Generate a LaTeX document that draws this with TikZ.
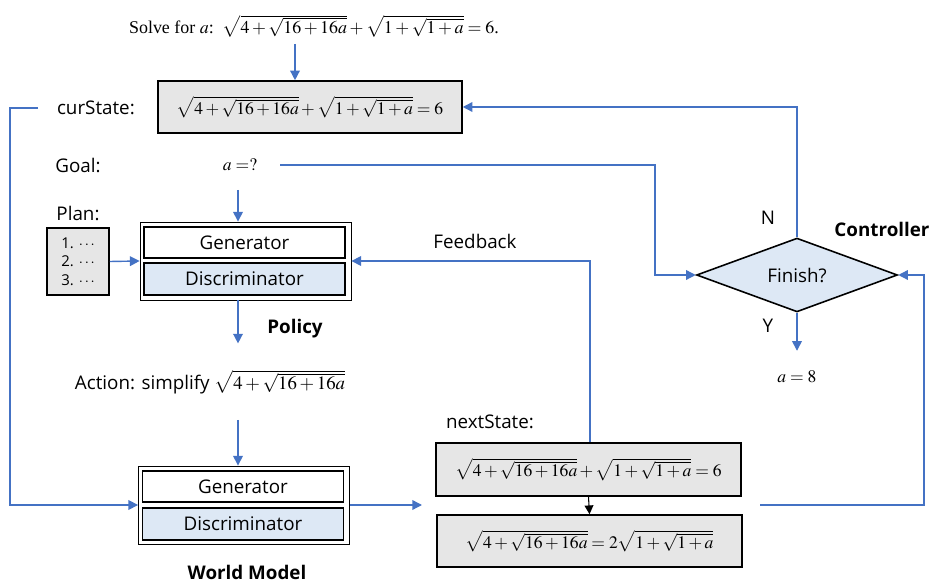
\documentclass[tikz,border=0pt]{standalone}
\usepackage{mathptmx}
\usepackage{fontspec}
\setmainfont{Liberation Serif}
\setsansfont{Open Sans}
\usepackage{xcolor}
\usetikzlibrary{arrows.meta,shapes.geometric}

\definecolor{flowblue}{HTML}{4472C4}
\definecolor{stategray}{HTML}{E6E6E6}
\definecolor{discblue}{HTML}{DDE8F5}

\tikzset{
    flow/.style={draw=flowblue,line width=0.8pt,-{Triangle[width=5.5pt,length=5.5pt]}},
    lbl/.style={font=\sffamily\fontsize{10.7}{13}\selectfont},
    boldlbl/.style={font=\sffamily\bfseries\fontsize{10.7}{13}\selectfont},
    eq/.style={font=\fontsize{10}{12}\selectfont},
    statebox/.style={draw,line width=0.9pt,fill=stategray,inner sep=0pt,eq},
    modelbox/.style={draw,line width=0.5pt,inner sep=0pt,minimum width=4.22cm,minimum height=1.56cm},
    genbox/.style={draw,line width=0.9pt,fill=white,inner sep=0pt,minimum width=4.02cm,minimum height=0.62cm,lbl},
    discbox/.style={genbox,fill=discblue,minimum height=0.64cm},
}

\begin{document}
\begin{tikzpicture}[x=0.02cm,y=-0.02cm]
    \useasboundingbox (0,0) rectangle (938,587);

    % task and current state
    \node[eq,font=\fontsize{10.2}{12}\selectfont,inner sep=1pt] (task) at (314,26)
        {Solve for $a$:\ \ $\sqrt{4+\sqrt{16+16a}}+\sqrt{1+\sqrt{1+a}}=6$.};
    \node[statebox,minimum width=6.08cm,minimum height=1.04cm] (cur) at (310,107)
        {$\sqrt{4+\sqrt{16+16a}}+\sqrt{1+\sqrt{1+a}}=6$};
    \node[lbl,anchor=east] (curlbl) at (141,108) {curState:};
    \coordinate (t0) at (295,44);
    \draw[flow] (t0) -- (t0 |- cur.north);

    % goal and plan
    \node[lbl] (goal) at (78,165) {Goal:};
    \node[eq] (goalval) at (240,165) {$a=?$};
    \node[lbl] (planlbl) at (78,213) {Plan:};
    \node[draw,line width=0.9pt,fill=stategray,minimum width=1.24cm,minimum height=1.34cm,
          align=left,font=\sffamily\fontsize{8.5}{10.5}\selectfont] (plan) at (78,261.5)
        {1. $\cdots$\\2. $\cdots$\\3. $\cdots$};

    % policy
    \node[modelbox] (pol) at (245.5,261) {};
    \node[genbox] (polgen) at (244.5,242.5) {Generator};
    \node[discbox] (poldisc) at (244.5,279) {Discriminator};
    \node[boldlbl] (pollbl) at (295,329) {Policy};
    \coordinate (g1) at (238,190);
    \draw[flow] (g1) -- (g1 |- pol.north);
    \draw[flow] (plan.east) -- (pol.west);
    \draw[flow] ([xshift=-0.15cm]pol.south) -- ++(0,43);

    % action and world model
    \node[lbl] (act) at (210,382) {Action: simplify \normalfont$\sqrt{4+\sqrt{16+16a}}$};
    \node[modelbox] (wm) at (244,505) {};
    \node[genbox] (wmgen) at (243,486.5) {Generator};
    \node[discbox] (wmdisc) at (243,524) {Discriminator};
    \node[boldlbl] (wmlbl) at (247,572) {World Model};
    \coordinate (a0) at (238,420);
    \draw[flow] (a0) -- (a0 |- wm.north);
    \coordinate (wmout) at (422,505);
    \draw[flow] (wm.east) -- (wmout);

    % next state
    \node[lbl] (nslbl) at (490,422) {nextState:};
    \node[statebox,minimum width=6.1cm,minimum height=1.06cm] (ns1) at (588.5,469.5)
        {$\sqrt{4+\sqrt{16+16a}}+\sqrt{1+\sqrt{1+a}}=6$};
    \node[statebox,minimum width=6.1cm,minimum height=1.04cm] (ns2) at (589.5,541)
        {$\sqrt{4+\sqrt{16+16a}}=2\sqrt{1+\sqrt{1+a}}$};
    \draw[line width=0.6pt,-{Triangle[width=5pt,length=5pt]}] (ns1.south) -- (ns2.north);

    % controller
    \node[diamond,draw,line width=0.9pt,fill=discblue,inner sep=0pt,
          minimum width=4.02cm,minimum height=1.34cm,lbl] (fin) at (797,275) {Finish?};
    \node[lbl] (no) at (768,218) {N};
    \node[lbl] (yes) at (768,326) {Y};
    \node[boldlbl] (ctrl) at (882,229) {Controller};
    \node[eq] (res) at (797,377) {$a=8$};
    \draw[flow] (fin.south) -- ([yshift=0.28cm]res.north);

    % loops
    \coordinate (c0) at (38,108);
    \draw[flow] (c0) -- (10,108) |- (wm.west);
    \coordinate (g0) at (280,165);
    \draw[flow] (g0) -- (655,165) |- (fin.west);
    \node[lbl] (fb) at (475,241) {Feedback};
    \draw[flow] ([xshift=0.03cm]ns1.north) |- (pol.east);
    \coordinate (r0) at (760,505);
    \draw[flow] (r0) -- (924,505) |- (fin.east);
    \draw[flow] (fin.north) |- (cur.east);
\end{tikzpicture}
\end{document}
